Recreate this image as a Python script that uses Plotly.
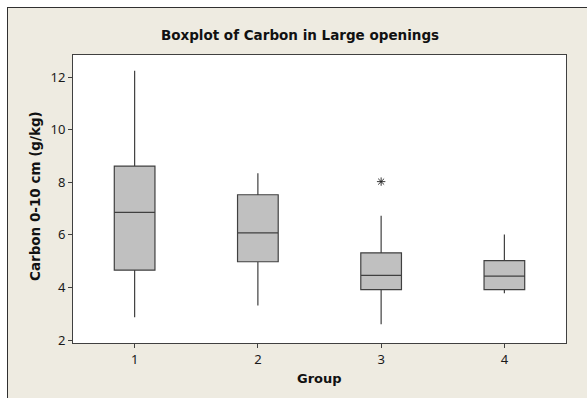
import plotly.graph_objects as go

groups = [1, 2, 3, 4]
lower_whisker = [2.87, 3.31, 2.60, 3.78]
q1_vals = [4.66, 4.98, 3.92, 3.92]
median_vals = [6.86, 6.08, 4.46, 4.43]
q3_vals = [8.62, 7.53, 5.32, 5.02]
upper_whisker = [12.25, 8.35, 6.73, 6.02]
outlier_group = [3]
outlier_value = [8.03]

title_text = "Boxplot of Carbon in Large openings"
x_title = "Group"
y_title = "Carbon 0-10 cm (g/kg)"

W, H = 587, 398
L, R, T, B = 73, 566, 55, 343
pw, ph = R - L, B - T

def px(p):
    return (p - L) / pw

def py(q):
    return (B - q) / ph

bg = "#EEEBE1"
dark = "#404040"
font_family = "DejaVu Sans"
tick_family = "Noto Sans"

fig = go.Figure()
fig.add_trace(go.Box(
    x=groups,
    q1=q1_vals,
    median=median_vals,
    q3=q3_vals,
    lowerfence=lower_whisker,
    upperfence=upper_whisker,
    width=0.33,
    whiskerwidth=0,
    fillcolor="#C0C0C0",
    line=dict(color=dark, width=1.2),
    boxpoints=False,
    showlegend=False,
))
fig.add_trace(go.Scatter(
    x=outlier_group,
    y=outlier_value,
    mode="markers",
    marker=dict(symbol="asterisk-open", size=7, color="#222222",
                line=dict(color="#222222", width=0.9)),
    showlegend=False,
))

fig.update_layout(
    width=W, height=H,
    margin=dict(l=L, r=W - R, t=T, b=H - B, pad=0),
    paper_bgcolor=bg,
    plot_bgcolor="white",
    font=dict(family=tick_family, size=13, color="#1a1a1a"),
    title=dict(text="<b>" + title_text + "</b>", x=300 / W, xanchor="center",
               y=1 - 35 / H, yanchor="middle", yref="container",
               font=dict(family=font_family, size=13.5, color="#111111")),
    xaxis=dict(range=[0.5, 4.5], tickvals=groups, ticktext=[str(g) for g in groups],
               showgrid=False, zeroline=False, showline=True, mirror=True,
               linecolor=dark, linewidth=1, ticks="outside", ticklen=4,
               tickcolor=dark, tickwidth=1),
    yaxis=dict(range=[1.886, 12.85], tickvals=[2, 4, 6, 8, 10, 12],
               showgrid=False, zeroline=False, showline=True, mirror=True,
               linecolor=dark, linewidth=1, ticks="outside", ticklen=4,
               tickcolor=dark, tickwidth=1),
    annotations=[
        dict(text="<b>" + x_title + "</b>", xref="paper", yref="paper",
             x=px(319), y=py(378), xanchor="center", yanchor="middle",
             showarrow=False, font=dict(family=font_family, size=13, color="#111111")),
        dict(text="<b>" + y_title + "</b>", xref="paper", yref="paper",
             x=px(35), y=py(196), xanchor="center", yanchor="middle", textangle=-90,
             showarrow=False, font=dict(family=font_family, size=13.5, color="#111111")),
    ],
    shapes=[
        dict(type="rect", xref="paper", yref="paper", x0=px(-20), x1=px(W + 20),
             y0=py(7), y1=py(-20), fillcolor="white", line=dict(width=0), layer="above"),
        dict(type="rect", xref="paper", yref="paper", x0=px(-20), x1=px(7),
             y0=py(H + 20), y1=py(-20), fillcolor="white", line=dict(width=0), layer="above"),
        dict(type="line", xref="paper", yref="paper", x0=px(7), x1=px(W + 20),
             y0=py(7.5), y1=py(7.5), line=dict(color="#303030", width=1), layer="above"),
        dict(type="line", xref="paper", yref="paper", x0=px(7.5), x1=px(7.5),
             y0=py(7), y1=py(H + 20), line=dict(color="#303030", width=1), layer="above"),
    ],
)

fig.write_html("out.html")
